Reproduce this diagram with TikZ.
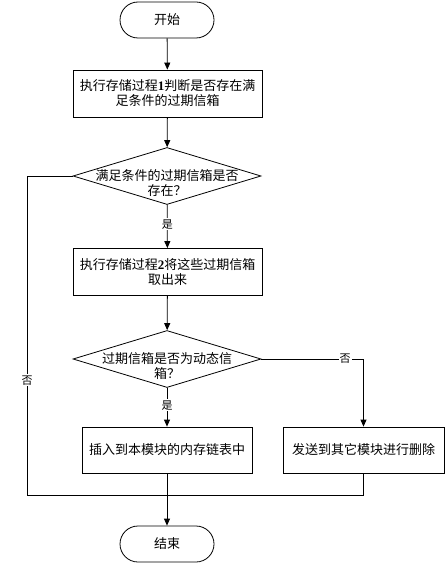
\documentclass[tikz,border=0pt]{standalone}
\usepackage{fontspec}
\newfontfamily\cjk{Noto Sans CJK SC}
\newfontfamily\lserif{Liberation Serif}
\usetikzlibrary{arrows.meta,shapes.geometric}
\newcommand{\dg}[1]{{\lserif\bfseries #1}}
\begin{document}
\begin{tikzpicture}[x=1pt,y=-1pt,
  font=\cjk\fontsize{13}{15}\selectfont,
  every path/.style={line width=0.8pt},
  arr/.style={-{Triangle[length=7pt,width=6pt]}},
  term/.style={draw, rounded corners=18pt, minimum width=94pt, minimum height=36pt, inner sep=0pt},
  proc/.style={draw, minimum height=47pt, align=center, inner sep=0pt},
  dec/.style={draw, diamond, minimum width=188pt, minimum height=57pt, inner sep=0pt},
  lab/.style={fill=white, inner sep=1pt, font=\cjk\fontsize{11}{13}\selectfont}]
\useasboundingbox[fill=white] (0,0) rectangle (445,564);
\node[term] (start) at (167,20) {开始};
\node[proc, minimum width=189pt] (b1) at (167.5,93.5) {执行存储过程\dg{1}判断是否存在满\\足条件的过期信箱};
\node[dec] (d1) at (167,176) {};
\node[align=center] (d1t) at (167,183) {满足条件的过期信箱是否\\存在？};
\node[proc, minimum width=189pt] (b2) at (167.5,272) {执行存储过程\dg{2}将这些过期信箱\\取出来};
\node[dec] (d2) at (167,359) {};
\node[align=center] (d2t) at (167,366) {过期信箱是否为动态信\\箱？};
\node[proc, minimum width=170pt, minimum height=46pt] (b3) at (167,450) {插入到本模块的内存链表中};
\node[proc, minimum width=161pt, minimum height=46pt] (b4) at (363.5,450) {发送到其它模块进行删除};
\node[term] (end) at (167,544) {结束};
\coordinate (m) at (167,495);
\coordinate (lc) at (27,495);
\coordinate (rc) at (363.5,495);

\draw[arr] (start) -- (b1);
\draw[arr] (b1) -- (d1);
\draw[arr] (d1) -- node[lab, pos=0.45] {是} (b2);
\draw[arr] (b2) -- (d2);
\draw[arr] (d2) -- node[lab, pos=0.45] {是} (b3);
\draw[arr] (d2.east) -| node[lab, pos=0.41] {否} (b4.north);
\draw (d1.west) -| node[lab, pos=0.82] {否} (lc) -- (m);
\draw (b4.south) -- (rc) -- (m);
\draw (b3.south) -- (m);
\draw[arr] (m) -- (end);
\end{tikzpicture}
\end{document}
